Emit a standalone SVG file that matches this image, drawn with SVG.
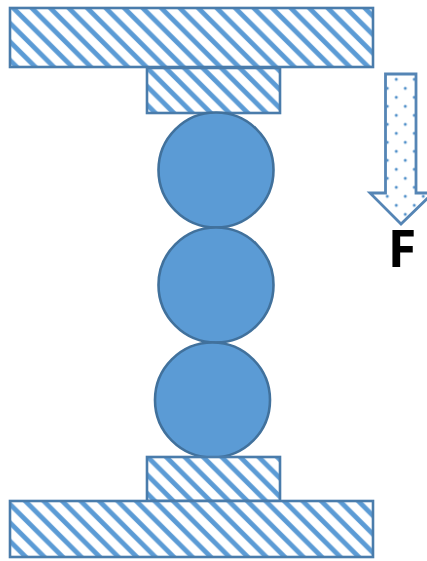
<svg xmlns="http://www.w3.org/2000/svg" width="427" height="561" viewBox="0 0 427 561">
<style>
.block{fill:url(#hatch);stroke:#4a7cab;stroke-width:2.6}
.ball{fill:#5b9bd5;stroke:#41719c;stroke-width:2.6}
.arrow{fill:url(#dots);stroke:#5585b5;stroke-width:2.8}
.label{font-family:"Open Sans","Liberation Sans",sans-serif;font-weight:700;font-size:52px;fill:#000}
</style>
<defs>
<pattern id="hatch" width="18.500" height="18.500" patternUnits="userSpaceOnUse" x="13.300" y="8">
<rect width="18.500" height="18.500" fill="#fff"/>
<path d="M-9.250 -9.250L27.750 27.750M-9.250 9.250L9.250 27.750M9.250 -9.250L27.750 9.250" stroke="#5b9bd5" stroke-width="4.800" fill="none"/>
</pattern>
<pattern id="dots" width="18" height="18" patternUnits="userSpaceOnUse" x="387.300" y="70.300">
<rect width="18" height="18" fill="#fff"/>
<circle cx="9" cy="9" r="1.500" fill="#4f8fc9"/>
<circle cx="0" cy="0" r="1.500" fill="#4f8fc9"/>
<circle cx="18" cy="0" r="1.500" fill="#4f8fc9"/>
<circle cx="0" cy="18" r="1.500" fill="#4f8fc9"/>
<circle cx="18" cy="18" r="1.500" fill="#4f8fc9"/>
</pattern>
</defs>
<g id="top-plate"><rect class="block" x="10" y="8" width="363" height="59"/></g>
<g id="top-block"><rect class="block" x="147" y="68" width="133" height="45"/></g>
<g id="ball-1"><circle class="ball" cx="216" cy="170" r="57.500"/></g>
<g id="ball-2"><circle class="ball" cx="216" cy="285" r="57.500"/></g>
<g id="ball-3"><circle class="ball" cx="212.500" cy="400" r="57.500"/></g>
<g id="bottom-block"><rect class="block" x="147" y="457" width="133" height="44"/></g>
<g id="bottom-plate"><rect class="block" x="10" y="501" width="363" height="56"/></g>
<g id="force-arrow"><path class="arrow" d="M385.500 74H416V193H433L401 224L370 193H385.500Z"/></g>
<g id="force-label"><text class="label" x="402" y="267" text-anchor="middle">F</text></g>
<g id="connectors"/>
</svg>
